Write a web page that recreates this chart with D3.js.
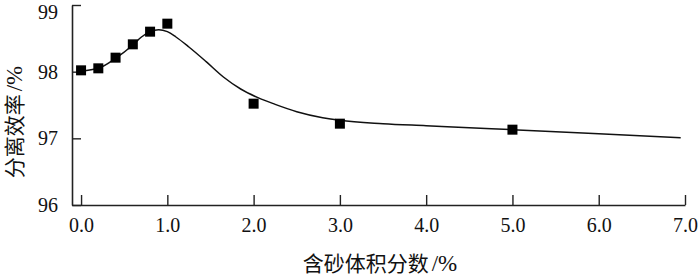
<!DOCTYPE html>
<html>
<head>
<meta charset="utf-8">
<script src="https://cdn.jsdelivr.net/npm/d3@7"></script>
<style>
  body { margin: 0; background: white; }
  svg { display: block; }
</style>
</head>
<body>
<script>
// measured points (sand volume fraction %, separation efficiency %)
const sandFraction = [0.0, 0.2, 0.4, 0.6, 0.8, 1.0, 2.0, 3.0, 5.0];
const efficiency = [98.02, 98.05, 98.21, 98.41, 98.60, 98.72, 97.52, 97.22, 97.13];

// fitted curve
const curveX = [0.0, 0.2, 0.4, 0.6, 0.7, 0.8, 0.9, 1.0, 1.1, 1.25, 1.45, 1.65, 1.85, 2.05, 2.25, 2.5, 2.8, 3.0, 3.5, 4.0, 4.5, 5.0, 6.0, 6.95];
const curveY = [98.01, 98.05, 98.20, 98.40, 98.52, 98.60, 98.63, 98.60, 98.52, 98.37, 98.15, 97.92, 97.74, 97.61, 97.51, 97.40, 97.31, 97.27, 97.22, 97.19, 97.16, 97.13, 97.07, 97.01];

const xTicks = [0, 1, 2, 3, 4, 5, 6, 7];
const yTicks = [96, 97, 98, 99];

const width = 700, height = 278;
const margin = {top: 5, right: 15, bottom: 73, left: 72};

const svg = d3.select("body").append("svg")
    .attr("width", width)
    .attr("height", height);

const x = d3.scaleLinear()
    .domain([-0.105, 7])
    .range([margin.left, width - margin.right]);

const y = d3.scaleLinear()
    .domain([96, 99])
    .range([height - margin.bottom, margin.top]);

const serif = "'Liberation Serif', 'Times New Roman', 'Noto Sans CJK SC', serif";

// x axis (ticks point inward)
const xAxis = svg.append("g")
    .attr("transform", `translate(0,${y(96)})`)
    .call(d3.axisBottom(x).tickValues(xTicks).tickSizeInner(-10).tickSizeOuter(0)
        .tickPadding(20).tickFormat(d3.format(".1f")));

// y axis
const yAxis = svg.append("g")
    .attr("transform", `translate(${x(-0.105)},0)`)
    .call(d3.axisLeft(y).tickValues(yTicks).tickSizeInner(-9).tickSizeOuter(0)
        .tickPadding(14).tickFormat(d3.format("d")));

[xAxis, yAxis].forEach(g => {
  g.select(".domain").attr("stroke", "#222").attr("stroke-width", 1.6);
  g.selectAll(".tick line").attr("stroke", "#222").attr("stroke-width", 1.4);
  g.selectAll(".tick text")
    .attr("fill", "#111")
    .style("font-family", serif)
    .style("font-size", "20px");
});
xAxis.selectAll(".tick text").attr("dy", "0.35em");
// keep the top label inside the picture
yAxis.selectAll(".tick").filter(d => d === 99).select("text").attr("dy", "0.66em");

// fitted curve
const line = d3.line()
    .x(d => x(d[0]))
    .y(d => y(d[1]))
    .curve(d3.curveMonotoneX);

svg.append("path")
    .datum(d3.zip(curveX, curveY))
    .attr("fill", "none")
    .attr("stroke", "#111")
    .attr("stroke-width", 1.5)
    .attr("d", line);

// square markers
const s = 10;
svg.append("g")
  .selectAll("rect")
  .data(d3.zip(sandFraction, efficiency))
  .join("rect")
    .attr("x", d => x(d[0]) - s / 2)
    .attr("y", d => y(d[1]) - s / 2)
    .attr("width", s)
    .attr("height", s)
    .attr("fill", "#000");

// axis titles
const xTitle = svg.append("text")
    .attr("x", 380)
    .attr("y", 271)
    .attr("text-anchor", "middle")
    .style("font-family", serif)
    .style("font-size", "21px")
    .attr("fill", "#111");
xTitle.append("tspan").text("含砂体积分数");
xTitle.append("tspan").attr("dx", 3).style("font-size", "23px").text("/%");

const yTitle = svg.append("text")
    .attr("transform", `translate(22,${122}) rotate(-90)`)
    .attr("text-anchor", "middle")
    .style("font-family", serif)
    .style("font-size", "21px")
    .attr("fill", "#111");
yTitle.append("tspan").text("分离效率");
yTitle.append("tspan").attr("dx", 3).style("font-size", "23px").text("/%");
</script>
</body>
</html>
